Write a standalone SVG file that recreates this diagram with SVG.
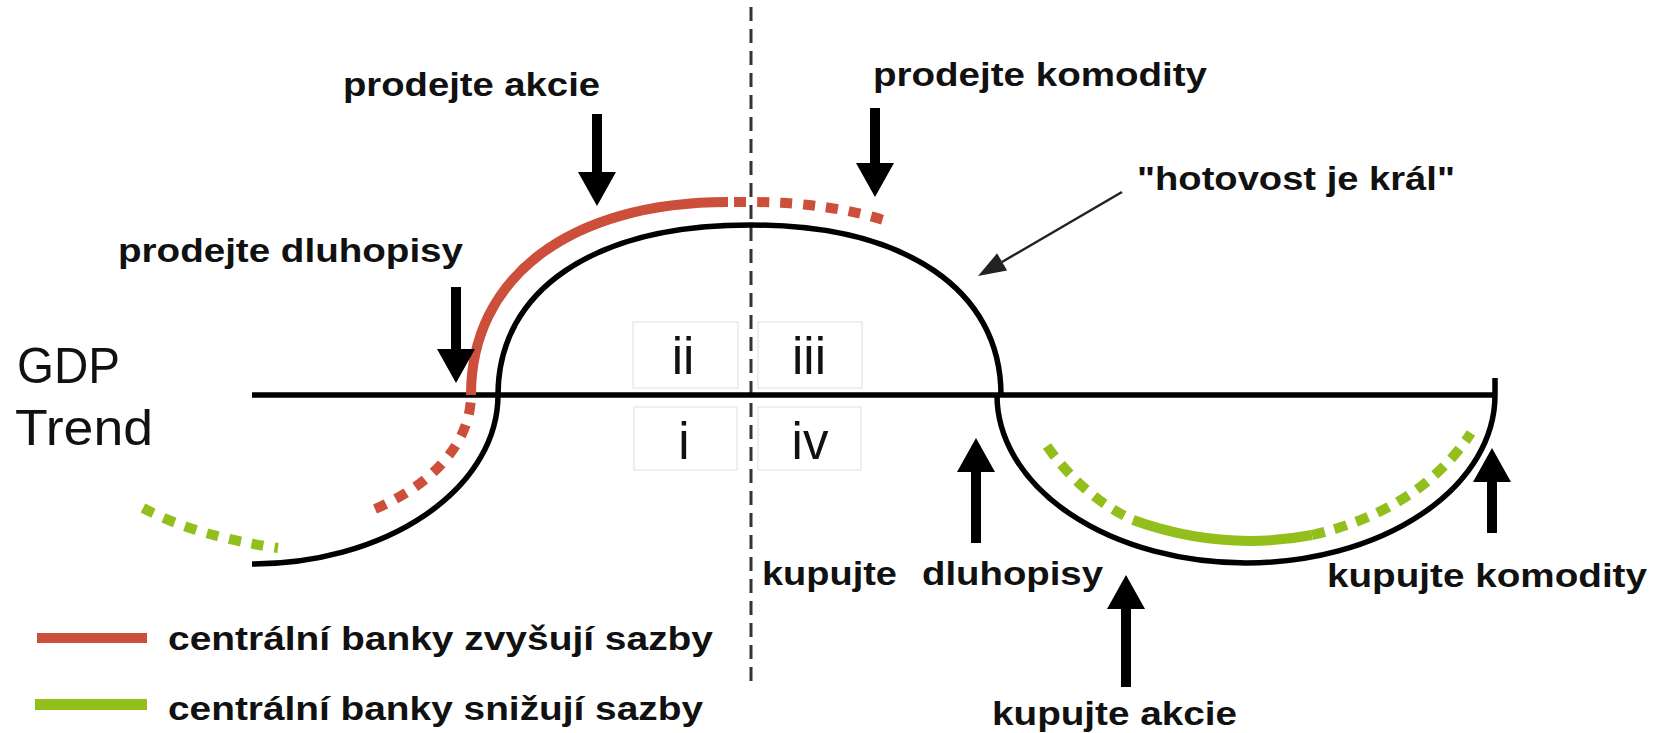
<svg xmlns="http://www.w3.org/2000/svg" width="1653" height="733" viewBox="0 0 1653 733">
<style>
.lbl{font-family:"Liberation Sans",Arial,sans-serif;font-weight:bold;font-size:34px;fill:#111}
.big{font-family:"Liberation Sans",Arial,sans-serif;font-size:50px;fill:#111}
.num{font-family:"Liberation Sans",Arial,sans-serif;font-size:51px;fill:#111;text-anchor:middle}
.box{fill:none;stroke:#e4e4e4;stroke-width:1.2}
.blk{fill:none;stroke:#000;stroke-width:5.5}
.red{fill:none;stroke:#cb4f3b;stroke-width:10}
.grn{fill:none;stroke:#92bf1c;stroke-width:10}
.dash{stroke-dasharray:12 11}
.gdash{stroke-dasharray:13 10}
.arr{fill:#000}
</style>
<rect width="1653" height="733" fill="#fff"/>

<g id="quadrants">
<rect class="box" x="633" y="322" width="105" height="66"/>
<rect class="box" x="758" y="322" width="104" height="66"/>
<rect class="box" x="634" y="407" width="103" height="63"/>
<rect class="box" x="758" y="407" width="103" height="63"/>
<text class="num" x="683" y="374">ii</text>
<text class="num" x="809" y="374">iii</text>
<text class="num" x="684" y="459">i</text>
<text class="num" x="810" y="459">iv</text>
</g>

<g id="divider">
<line x1="751" y1="7" x2="751" y2="688" stroke="#333" stroke-width="3" stroke-dasharray="14 8"/>
</g>

<g id="gdp-curve">
<line class="blk" x1="252" y1="395" x2="1495" y2="395"/>
<path class="blk" d="M252,564 A246,169 0 0 0 498,395 C498,290 594,225 750,225 C906,225 1001,290 1001,395"/>
<path class="blk" d="M997,395 A249,168 0 0 0 1495,395 L1495,378"/>
</g>

<g id="rate-hikes">
<path class="red dash" d="M375,509 A219,138 0 0 0 471,395"/>
<path class="red" d="M471,395 C471,277 570,202 728,202"/>
<path class="red dash" d="M734,202 L750,202 C801.9,202 847.8,208.6 886.6,221"/>
</g>

<g id="rate-cuts">
<path class="grn dash" d="M143,508 Q195,536 278,548"/>
<path class="grn gdash" d="M1047,446 Q1082,496 1133,520"/>
<path class="grn" d="M1133,520 Q1222,552 1312,535"/>
<path class="grn gdash" d="M1312,535 Q1420,510 1471,433"/>
</g>

<g id="axis-label">
<text class="big" x="17" y="383" textLength="103" lengthAdjust="spacingAndGlyphs">GDP</text>
<text class="big" x="15" y="445" textLength="138" lengthAdjust="spacingAndGlyphs">Trend</text>
</g>

<g id="label-prodejte-akcie"><text class="lbl" x="343" y="96" textLength="257" lengthAdjust="spacingAndGlyphs">prodejte akcie</text></g>
<g id="label-prodejte-komodity"><text class="lbl" x="873" y="86" textLength="334" lengthAdjust="spacingAndGlyphs">prodejte komodity</text></g>
<g id="label-hotovost"><text class="lbl" x="1137" y="190" textLength="318" lengthAdjust="spacingAndGlyphs">"hotovost je král"</text></g>
<g id="label-prodejte-dluhopisy"><text class="lbl" x="118" y="262" textLength="345" lengthAdjust="spacingAndGlyphs">prodejte dluhopisy</text></g>
<g id="label-kupujte-dluhopisy">
<text class="lbl" x="762" y="585" textLength="135" lengthAdjust="spacingAndGlyphs">kupujte</text>
<text class="lbl" x="922" y="585" textLength="181" lengthAdjust="spacingAndGlyphs">dluhopisy</text>
</g>
<g id="label-kupujte-akcie"><text class="lbl" x="992" y="725" textLength="245" lengthAdjust="spacingAndGlyphs">kupujte akcie</text></g>
<g id="label-kupujte-komodity"><text class="lbl" x="1327" y="587" textLength="320" lengthAdjust="spacingAndGlyphs">kupujte komodity</text></g>

<g id="legend">
<rect x="37" y="633" width="110" height="10" fill="#cb4f3b"/>
<rect x="35" y="699" width="112" height="11" fill="#92bf1c"/>
<text class="lbl" x="168" y="650" textLength="545" lengthAdjust="spacingAndGlyphs">centrální banky zvyšují sazby</text>
<text class="lbl" x="168" y="720" textLength="535" lengthAdjust="spacingAndGlyphs">centrální banky snižují sazby</text>
</g>

<g id="connectors">
<path class="arr" d="M592,114 H602 V172 H616 L597,206 L578,172 H592 Z"/>
<path class="arr" d="M870,108 H880 V163 H894 L875,197 L856,163 H870 Z"/>
<path class="arr" d="M451,287 H461 V349 H475 L456,383 L437,349 H451 Z"/>
<path class="arr" d="M971,543 H981 V472 H995 L976,438 L957,472 H971 Z"/>
<path class="arr" d="M1121,687 H1131 V609 H1145 L1126,575 L1107,609 H1121 Z"/>
<path class="arr" d="M1487,533 H1497 V482 H1511 L1492,448 L1473,482 H1487 Z"/>
<line x1="1122" y1="192" x2="1002" y2="262" stroke="#222" stroke-width="2.5"/>
<path fill="#222" d="M978,276 L1007.1,270.5 L997.1,253.3 Z"/>
</g>
</svg>
